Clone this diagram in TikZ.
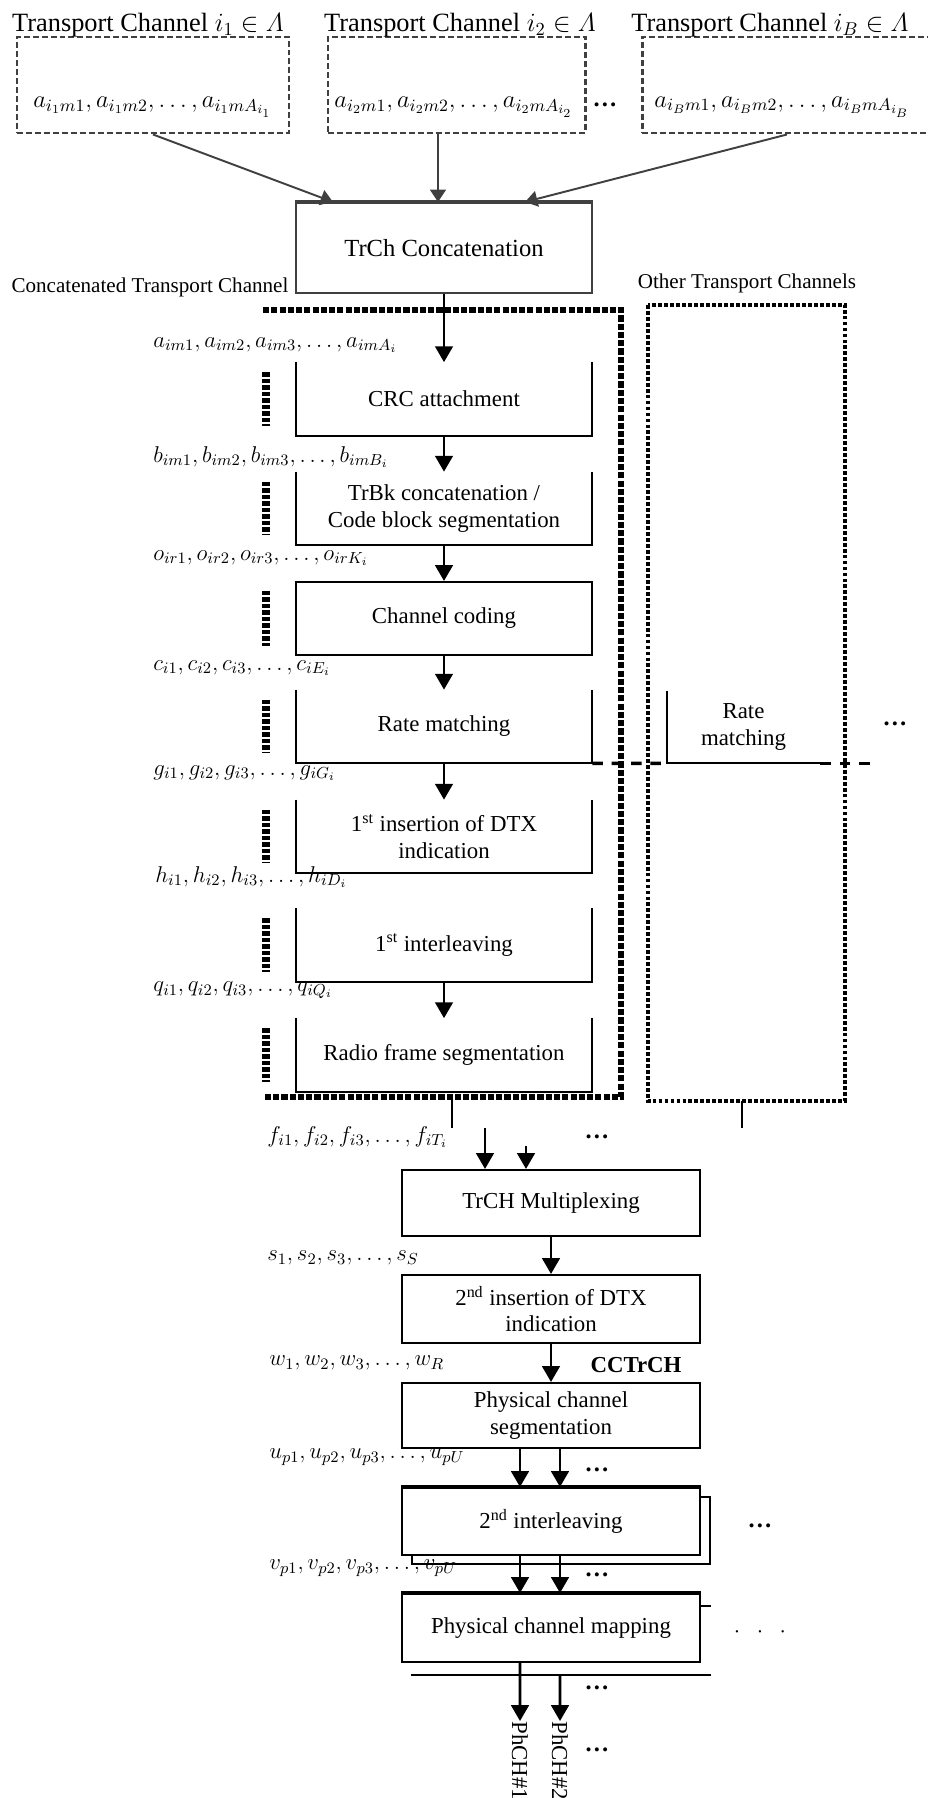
\documentclass[tikz,border=0pt]{standalone}
\usepackage{fix-cm}
\usepackage{fontspec}
\setmainfont{Liberation Serif}
\usepackage{tikz}
\usetikzlibrary{arrows.meta,calc,positioning,shadows}
\tikzset{>={Triangle[length=9pt,width=10pt]}}
\definecolor{darkgrey}{RGB}{64,64,64}

\begin{document}
\begin{tikzpicture}[>={Triangle[length=9pt,width=10pt]},
    txt/.style={font=\fontsize{13}{15}\selectfont, align=center},
    block/.style={txt, minimum width=5.92cm, minimum height=1.46cm, inner sep=0pt},
    lowblock/.style={block, draw, line width=1.2pt, minimum width=5.96cm},
    lbl/.style={font=\fontsize{13}{15}\selectfont, anchor=west, inner sep=0pt},
    lowlbl/.style={lbl},
    chbox/.style={draw=darkgrey, line width=1.7pt, dash pattern=on 3.4pt off 1.7pt, minimum height=1.92cm, inner sep=0pt},
    chbits/.style={anchor=west, inner sep=0pt, font=\fontsize{14}{16}\selectfont},
    chtitle/.style={txt, font=\fontsize{15}{17}\selectfont},
    bigbox/.style={line width=3pt, dash pattern=on 3.5pt off 1.2pt},
    otherbox/.style={line width=2.4pt, dash pattern=on 2.2pt off 1.2pt},
    edgeseg/.style={line width=4pt, dash pattern=on 2.5pt off 1.2pt},
    ratedash/.style={line width=2pt, dash pattern=on 6pt off 5pt},
    flow/.style={->, line width=1.5pt},
    dots/.style={font=\fontsize{14}{16}\selectfont\bfseries}]
    \useasboundingbox (0,0) rectangle (18.56,-35.96);

    % transport channels
    \node at (3.06,-1.7) [chbox, minimum width=5.44cm](tc1){};
    \node at (9.13,-1.7) [chbox, minimum width=5.14cm](tc2){};
    \node at (15.74,-1.7) [chbox, minimum width=5.8cm](tc3){};
    \node at (2.96,-0.5) [chtitle](tc1title){Transport Channel $i_1 \in \mathnormal{\Lambda}$};
    \node at (9.2,-0.5) [chtitle](tc2title){Transport Channel $i_2 \in \mathnormal{\Lambda}$};
    \node at (15.4,-0.5) [chtitle](tc3title){Transport Channel $i_B \in \mathnormal{\Lambda}$};
    \node at (0.66,-2.14) [chbits](tc1bits){$a_{i_1m1}, a_{i_1m2}, \ldots, a_{i_1mA_{i_1}}$};
    \node at (6.68,-2.14) [chbits](tc2bits){$a_{i_2m1}, a_{i_2m2}, \ldots, a_{i_2mA_{i_2}}$};
    \node at (13.08,-2.14) [chbits](tc3bits){$a_{i_Bm1}, a_{i_Bm2}, \ldots, a_{i_BmA_{i_B}}$};
    \node at (12.1,-2.1) [dots](tcdots){\ldots};

    \node at (8.88,-4.96) [txt, draw=darkgrey, line width=1.2pt, minimum width=5.92cm, minimum height=1.8cm, font=\fontsize{14}{16}\selectfont](trch){TrCh Concatenation};
    \draw [darkgrey, line width=2.2pt] (trch.north west) -- (trch.north east);
    \draw [->, darkgrey, line width=1.1pt, >={Triangle[length=7pt,width=9pt]}] (tc1.south) -- ([xshift=0.76cm]trch.north west);
    \draw [->, darkgrey, line width=1.1pt, >={Triangle[length=7pt,width=9pt]}] ([xshift=-0.37cm]tc2.south) -- ([xshift=-0.37cm]tc2.south |- trch.north);
    \draw [->, darkgrey, line width=1.1pt, >={Triangle[length=7pt,width=9pt]}] (tc3.south) -- ([xshift=-1.36cm]trch.north east);

    \node at (3.0,-5.74) [font=\fontsize{12}{14}\selectfont](cclbl){Concatenated Transport Channel};
    \node at (14.94,-5.66) [font=\fontsize{12}{14}\selectfont](otlbl){Other Transport Channels};

    % concatenated transport channel
    \draw [bigbox] (5.26,-6.2) -- (12.42,-6.2) -- (12.42,-21.94) -- (5.26,-21.94);
    \draw [otherbox] (12.96,-6.1) rectangle (16.9,-22.02);

    \node at (8.88,-7.98) [block](crc){CRC attachment};
    \node at (8.88,-10.17) [block](trbk){TrBk concatenation /\\Code block segmentation};
    \node at (8.88,-12.37) [block, draw, line width=1.2pt](coding){Channel coding};
    \node at (8.88,-14.53) [block](rate){Rate matching};
    \node at (8.88,-16.73) [block](dtx1){1\textsuperscript{st} insertion of DTX\\indication};
    \node at (8.88,-18.9) [block](intl1){1\textsuperscript{st} interleaving};
    \node at (8.88,-21.1) [block](radio){Radio frame segmentation};
    \foreach \b in {crc,trbk,rate,dtx1,intl1,radio}
    \draw [line width=1.2pt] (\b.north west) |- (\b.south east) -- (\b.north east);

    \coordinate (edge) at (5.32,0);
    \foreach \b in {crc,trbk,coding,rate,dtx1,intl1,radio}
    \draw [edgeseg] ($(\b.north west -| edge)+(0,-0.2)$) -- ($(\b.south west -| edge)+(0,0.2)$);

    \foreach \a/\b in {trch/crc,crc/trbk,trbk/coding,coding/rate,rate/dtx1,intl1/radio}
    \draw [flow] (\a) -- (\b);

    \node at (3.06,-6.9) [lbl](albl){$a_{im1}, a_{im2}, a_{im3}, \ldots, a_{imA_i}$};
    \node at (3.06,-9.14) [lbl](blbl){$b_{im1}, b_{im2}, b_{im3}, \ldots, b_{imB_i}$};
    \node at (3.06,-11.16) [lbl](olbl){$o_{ir1}, o_{ir2}, o_{ir3}, \ldots, o_{irK_i}$};
    \node at (3.06,-13.36) [lbl](clbl){$c_{i1}, c_{i2}, c_{i3}, \ldots, c_{iE_i}$};
    \node at (3.06,-15.46) [lbl](glbl){$g_{i1}, g_{i2}, g_{i3}, \ldots, g_{iG_i}$};
    \node at (3.1,-17.54) [lbl](hlbl){$h_{i1}, h_{i2}, h_{i3}, \ldots, h_{iD_i}$};
    \node at (3.06,-19.8) [lbl](qlbl){$q_{i1}, q_{i2}, q_{i3}, \ldots, q_{iQ_i}$};

    % other transport channels
    \node at (14.87,-14.54) [txt, minimum width=3.06cm, minimum height=1.44cm, inner sep=0pt](orate){Rate\\matching};
    \draw [line width=1pt] (orate.north west) |- (orate.south east);
    \draw [ratedash] (rate.south east) -- (orate.south west);
    \draw [ratedash] (orate.south east) -- ++(1.0,0);
    \node at (17.9,-14.48) [dots](odots){\ldots};

    % multiplexing
    \coordinate (cout) at (9.04,-21.94);
    \coordinate (oout) at (14.84,-22.02);
    \draw [line width=1.5pt] (cout) -- ++(0,-0.62);
    \draw [line width=1.5pt] (oout) -- ++(0,-0.54);
    \node at (5.34,-22.74) [lowlbl](flbl){$f_{i1}, f_{i2}, f_{i3}, \ldots, f_{iT_i}$};
    \node at (11.94,-22.74) [dots](fdots){\ldots};

    \node at (11.02,-24.06) [lowblock, minimum height=1.32cm](mux){TrCH Multiplexing};
    \coordinate (f1) at (9.7,-22.56);
    \coordinate (f2) at (10.52,-22.92);
    \draw [flow] (f1) -- (f1 |- mux.north);
    \draw [flow] (f2) -- (f2 |- mux.north);

    \node at (5.34,-25.16) [lowlbl](slbl){$s_1, s_2, s_3, \ldots, s_S$};
    \node at (11.02,-26.18) [lowblock, minimum height=1.36cm](dtx2){2\textsuperscript{nd} insertion of DTX\\indication};
    \draw [flow] (mux) -- (dtx2);

    \node at (5.38,-27.26) [lowlbl](wlbl){$w_1, w_2, w_3, \ldots, w_R$};
    \node at (12.72,-27.3) [txt, font=\fontsize{13}{15}\selectfont\bfseries](cctrch){CCTrCH};
    \node at (11.02,-28.31) [lowblock, minimum height=1.3cm](physeg){Physical channel\\segmentation};
    \draw [flow] (dtx2) -- (physeg);

    \node at (5.38,-29.14) [lowlbl](ulbl){$u_{p1}, u_{p2}, u_{p3}, \ldots, u_{pU}$};
    \node at (11.94,-29.4) [dots](udots){\ldots};
    \node at (11.02,-30.43) [lowblock, fill=white, minimum height=1.34cm, copy shadow={shadow xshift=0.2cm, shadow yshift=-0.18cm}](intl2){2\textsuperscript{nd} interleaving};
    \draw [line width=2.2pt] (intl2.north west) -- (intl2.north east);
    \node at (15.2,-30.52) [dots](idots){\ldots};
    \draw [flow] ([xshift=-0.62cm]physeg.south) -- ([xshift=-0.62cm]intl2.north);
    \draw [flow] ([xshift=0.18cm]physeg.south) -- ([xshift=0.18cm]intl2.north);

    \node at (5.38,-31.36) [lowlbl](vlbl){$v_{p1}, v_{p2}, v_{p3}, \ldots, v_{pU}$};
    \node at (11.94,-31.5) [dots](vdots){\ldots};
    \node at (11.02,-32.56) [lowblock, minimum height=1.36cm](phmap){Physical channel mapping};
    \draw [line width=2.2pt] (phmap.north west) -- (phmap.north east);
    \draw [line width=1.2pt] ($(phmap.north east)+(0,-0.26)$) -- ++(0.2,0);
    \draw [line width=1.2pt] ($(phmap.south west)+(0.2,-0.24)$) -- ($(phmap.south east)+(0.2,-0.24)$);
    \node at (15.2,-32.64) [txt](mdots){$\cdot\ \ \cdot\ \ \cdot$};
    \draw [flow] ([xshift=-0.62cm]intl2.south) -- ([xshift=-0.62cm]phmap.north);
    \draw [flow] ([xshift=0.18cm]intl2.south) -- ([xshift=0.18cm]phmap.north);

    % physical channels
    \node at (10.4,-34.42) [txt, rotate=-90, anchor=west, inner sep=0pt](pch1){PhCH\#1};
    \node at (11.2,-34.42) [txt, rotate=-90, anchor=west, inner sep=0pt](pch2){PhCH\#2};
    \draw [flow] ([xshift=-0.62cm]phmap.south) -- (pch1.west);
    \draw [flow] ($(phmap.south)+(0.18,-0.24)$) -- (pch2.west);
    \node at (11.94,-33.76) [dots](pdots){\ldots};
    \node at (11.94,-35.0) [dots](edots){\ldots};
\end{tikzpicture}
\end{document}
